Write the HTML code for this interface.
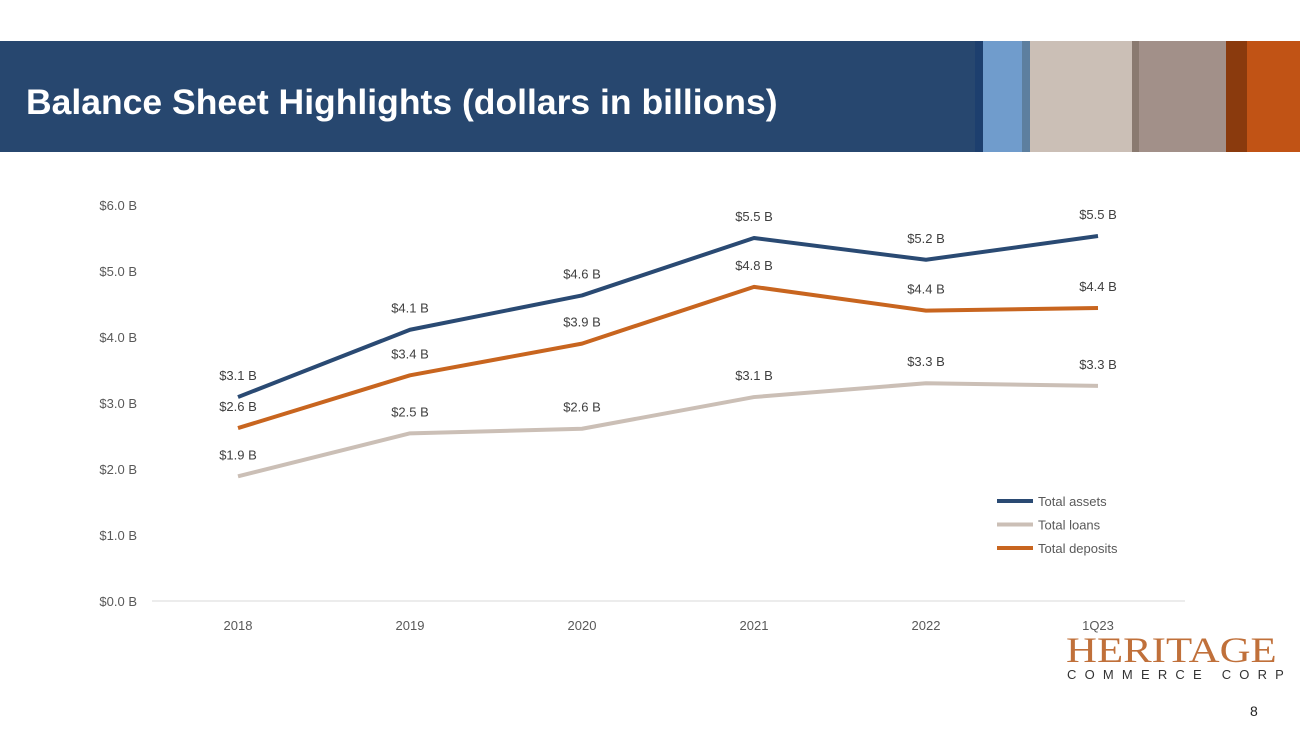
<!DOCTYPE html>
<html><head><meta charset="utf-8"><style>
body{margin:0;width:1300px;height:731px;background:#fff;overflow:hidden;position:relative;font-family:"Liberation Sans",sans-serif}
.hdr{position:absolute;left:0;top:41px;width:1300px;height:111px;background:#27476f}
.s{position:absolute;top:41px;height:111px}
</style></head><body>
<div class="hdr"></div>
<div class="s" style="left:975px;width:10px;background:#1d3f6e"></div>
<div class="s" style="left:983px;width:42px;background:#709ccc"></div>
<div class="s" style="left:1022px;width:9px;background:#5d7f9f"></div>
<div class="s" style="left:1030px;width:103px;background:#cbbfb6"></div>
<div class="s" style="left:1132px;width:8px;background:#8a7a70"></div>
<div class="s" style="left:1139px;width:88px;background:#a29089"></div>
<div class="s" style="left:1226px;width:22px;background:#8a3a0d"></div>
<div class="s" style="left:1247px;width:53px;background:#c15315"></div>
<div style="position:absolute;left:26px;top:82px;color:#fff;font-weight:bold;font-size:35.5px;white-space:nowrap">Balance Sheet Highlights (dollars in billions)</div>
<svg id="chart" width="1300" height="731" style="position:absolute;left:0;top:0"></svg>
<div style="position:absolute;left:1066px;top:629px;font-family:'Liberation Serif',serif;font-size:36px;color:#c0703a;white-space:nowrap;transform:scaleX(1.19);transform-origin:left top">HERITAGE</div>
<div style="position:absolute;left:1067px;top:667px;font-size:13px;color:#333;letter-spacing:8.2px;white-space:nowrap">COMMERCE CORP</div>
<div style="position:absolute;left:1250px;top:703px;font-size:14px;color:#222">8</div>
<script>
const categories=["2018","2019","2020","2021","2022","1Q23"];
const assets=[3.09,4.11,4.63,5.5,5.17,5.53];
const loans=[1.89,2.54,2.61,3.09,3.3,3.26];
const deposits=[2.62,3.42,3.9,4.76,4.4,4.44];
const assetsLabels=["$3.1 B","$4.1 B","$4.6 B","$5.5 B","$5.2 B","$5.5 B"];
const loansLabels=["$1.9 B","$2.5 B","$2.6 B","$3.1 B","$3.3 B","$3.3 B"];
const depositsLabels=["$2.6 B","$3.4 B","$3.9 B","$4.8 B","$4.4 B","$4.4 B"];
const yTicks=[0,1,2,3,4,5,6];
const svg=document.getElementById('chart');
const NS='http://www.w3.org/2000/svg';
const x=i=>238+i*172;
const y=v=>601-v*66;
function mk(t,a){const e=document.createElementNS(NS,t);for(const k in a)e.setAttribute(k,a[k]);svg.appendChild(e);return e;}
const F='"Liberation Sans",sans-serif';
yTicks.forEach(v=>{const t=mk('text',{x:137,y:y(v)+5,'text-anchor':'end','font-size':13,fill:'#595959','font-family':F});t.textContent='$'+v.toFixed(1)+' B';

});
const ax=mk('line',{x1:152,x2:1185,y1:601,y2:601,stroke:'#d9d9d9','stroke-width':1});


categories.forEach((c,i)=>{const t=mk('text',{x:x(i),y:630,'text-anchor':'middle','font-size':13,fill:'#595959','font-family':F});t.textContent=c;

});
const series=[[loans,loansLabels,'#cbbfb6','total-loans'],[deposits,depositsLabels,'#c8651f','total-deposits'],[assets,assetsLabels,'#2a4a73','total-assets']];
series.forEach(([d,l,c,n])=>{
const p=mk('polyline',{points:d.map((v,i)=>x(i)+','+y(v)).join(' '),fill:'none',stroke:c,'stroke-width':4,'stroke-linejoin':'round'});


d.forEach((v,i)=>{const t=mk('text',{x:x(i),y:y(v)-17,'text-anchor':'middle','font-size':13,fill:'#404040','font-family':F});t.textContent=l[i];

});
});
[['Total assets','#2a4a73'],['Total loans','#cbbfb6'],['Total deposits','#c8651f']].forEach(([n,c],i)=>{
const yy=501+i*23.5;
const l=mk('line',{x1:997,x2:1033,y1:yy,y2:yy,stroke:c,'stroke-width':4});


const t=mk('text',{x:1038,y:yy+5,'font-size':13,fill:'#595959','font-family':F});t.textContent=n;


});
</script>
</body></html>
